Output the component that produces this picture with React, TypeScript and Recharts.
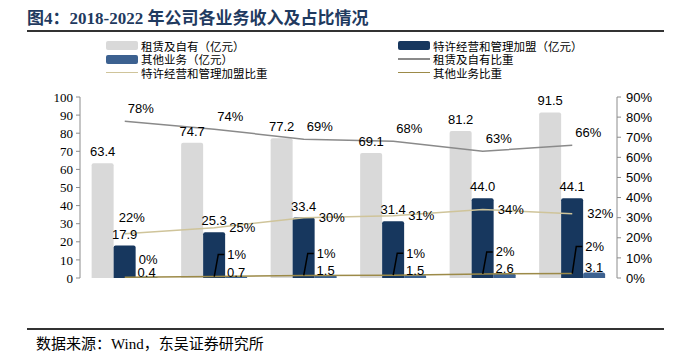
import React from 'react';
import { ComposedChart, Bar, Line, XAxis, YAxis, LabelList } from 'recharts';

if (typeof document !== 'undefined') document.body.style.margin = '0';

const years = ['2017', '2018', '2019', '2020', '2021', '2022'];
const leaseOwned = [63.4, 74.7, 77.2, 69.1, 81.2, 91.5];
const franchise = [17.9, 25.3, 33.4, 31.4, 44.0, 44.1];
const otherBiz = [0.4, 0.7, 1.5, 1.5, 2.6, 3.1];
const leaseShare = [0.78, 0.74, 0.69, 0.68, 0.63, 0.66];
const franchiseShare = [0.22, 0.25, 0.3, 0.31, 0.34, 0.32];
const otherShare = [0.004, 0.007, 0.013, 0.014, 0.02, 0.022];
const leftTicks = [0, 10, 20, 30, 40, 50, 60, 70, 80, 90, 100];
const rightTicks = [0, 0.1, 0.2, 0.3, 0.4, 0.5, 0.6, 0.7, 0.8, 0.9];

const data = years.map((year, i) => ({
  year,
  leaseOwned: leaseOwned[i],
  franchise: franchise[i],
  otherBiz: otherBiz[i],
  leaseShare: leaseShare[i],
  franchiseShare: franchiseShare[i],
  otherShare: otherShare[i],
}));

const C = {
  lease: '#d9d9d9',
  franchise: '#17375e',
  other: '#3c6190',
  leaseLine: '#8a8a8a',
  franchiseLine: '#cfc49a',
  otherLine: '#9c8a48',
  axis: '#8c8c8c',
};

const SANS = '"Liberation Sans", Arial, sans-serif';
const SERIF = '"Liberation Serif", "Times New Roman", serif';
const CJK = '"Liberation Serif", "Noto Sans CJK SC", serif';

const pct = (v: number) => `${Math.round(v * 100)}%`;

const YearTick = (props: any) => {
  const { x, y, payload, index } = props;
  const half = payload?.offset || 44.75;
  return (
    <g>
      {index < years.length - 1 && (
        <line x1={x + half} x2={x + half} y1={y - 4} y2={y} stroke={C.axis} />
      )}
      <text x={x} y={y + 16} textAnchor="middle" dominantBaseline="central" fontFamily={SERIF} fontSize={13} fill="#000">
        {payload.value}
      </text>
    </g>
  );
};

const LeaseShareLabel = (props: any) => {
  const { x, y, value } = props;
  return (
    <text x={x + 16} y={y - 13} textAnchor="middle" dominantBaseline="central" fontFamily={SANS} fontSize={13} fill="#000">
      {pct(value)}
    </text>
  );
};

const FranchiseShareLabel = (props: any) => {
  const { x, y, value, index } = props;
  if (index === 0) {
    return (
      <text x={x + 7} y={y - 16} textAnchor="middle" dominantBaseline="central" fontFamily={SANS} fontSize={13} fill="#000">
        {pct(value)}
      </text>
    );
  }
  return (
    <text x={x + 15} y={y} textAnchor="start" dominantBaseline="central" fontFamily={SANS} fontSize={13} fill="#000">
      {pct(value)}
    </text>
  );
};

const OtherShareLabel = (props: any) => {
  const { x, y, value, index } = props;
  if (index === 0) {
    return (
      <text x={x + 14} y={y - 18} textAnchor="start" dominantBaseline="central" fontFamily={SANS} fontSize={13} fill="#000">
        {pct(value)}
      </text>
    );
  }
  const up = index === years.length - 1 ? 27 : 22;
  return (
    <g>
      <polyline
        points={`${x},${y} ${x + 4},${y - up} ${x + 10},${y - up}`}
        fill="none"
        stroke="#000"
        strokeWidth={1.5}
      />
      <text x={x + 13} y={y - up} textAnchor="start" dominantBaseline="central" fontFamily={SANS} fontSize={13} fill="#000">
        {pct(value)}
      </text>
    </g>
  );
};

const barLabelStyle = { fontFamily: SANS, fontSize: 13, fill: '#000' };
const oneDecimal = (v: any) => Number(v).toFixed(1);

type LegendItem = { label: string; color: string; kind: 'bar' | 'line'; x: number; y: number };
const legendItems: LegendItem[] = [
  { label: '租赁及自有（亿元）', color: C.lease, kind: 'bar', x: 106, y: 45.5 },
  { label: '特许经营和管理加盟（亿元）', color: C.franchise, kind: 'bar', x: 398, y: 45.5 },
  { label: '其他业务（亿元）', color: C.other, kind: 'bar', x: 106, y: 59 },
  { label: '租赁及自有比重', color: C.leaseLine, kind: 'line', x: 398, y: 59 },
  { label: '特许经营和管理加盟比重', color: C.franchiseLine, kind: 'line', x: 106, y: 72.5 },
  { label: '其他业务比重', color: C.otherLine, kind: 'line', x: 398, y: 72.5 },
];

export default function App() {
  return (
    <div style={{ position: 'relative', width: 675, height: 363, background: '#fff', overflow: 'hidden' }}>
      <div
        style={{
          position: 'absolute',
          left: 27,
          top: 4,
          fontFamily: CJK,
          fontWeight: 700,
          fontSize: 17,
          color: '#1f3a5f',
          whiteSpace: 'nowrap',
        }}
      >
        图4：2018-2022 年公司各业务收入及占比情况
      </div>
      <div style={{ position: 'absolute', left: 27, top: 30, width: 637, height: 2, background: '#333' }} />

      {legendItems.map((it) => (
        <div key={it.label}>
          {it.kind === 'bar' ? (
            <div
              style={{
                position: 'absolute',
                left: it.x,
                top: it.y - 4.5,
                width: 32,
                height: 9,
                background: it.color,
                borderRadius: 2,
              }}
            />
          ) : (
            <div
              style={{ position: 'absolute', left: it.x, top: it.y - 1, width: 32, height: 1.5, background: it.color }}
            />
          )}
          <div
            style={{
              position: 'absolute',
              left: it.x + 35,
              top: it.y - 6,
              height: 12,
              lineHeight: '12px',
              fontFamily: '"Noto Sans CJK SC", sans-serif',
              fontSize: 11.5,
              color: '#000',
              whiteSpace: 'nowrap',
            }}
          >
            {it.label}
          </div>
        </div>
      ))}

      <div style={{ position: 'absolute', left: 0, top: 0 }}>
        <ComposedChart
          width={675}
          height={363}
          data={data}
          margin={{ top: 97, right: 8, bottom: 85, left: 20 }}
          barCategoryGap="13%"
          barGap={0}
        >
          <XAxis
            dataKey="year"
            xAxisId="x"
            height={0}
            axisLine={{ stroke: C.axis }}
            tickLine={false}
            tickSize={0}
            tickMargin={0}
            tick={<YearTick />}
            interval={0}
          />
          <YAxis
            yAxisId="left"
            orientation="left"
            width={60}
            domain={[0, 100]}
            ticks={leftTicks}
            interval={0}
            axisLine={{ stroke: C.axis }}
            tickLine={{ stroke: C.axis }}
            tickSize={4}
            tickMargin={3}
            tick={{ fontFamily: SERIF, fontSize: 13, fill: '#000' }}
          />
          <YAxis
            yAxisId="right"
            orientation="right"
            width={50}
            domain={[0, 0.9]}
            ticks={rightTicks}
            interval={0}
            tickFormatter={pct}
            axisLine={{ stroke: C.axis }}
            tickLine={{ stroke: C.axis }}
            tickSize={4}
            tickMargin={5}
            tick={{ fontFamily: SANS, fontSize: 13, fill: '#000' }}
          />
          <Bar xAxisId="x" yAxisId="left" dataKey="leaseOwned" fill={C.lease} radius={[2, 2, 0, 0]} isAnimationActive={false}>
            <LabelList dataKey="leaseOwned" position="top" offset={7} formatter={oneDecimal} style={barLabelStyle} />
          </Bar>
          <Bar xAxisId="x" yAxisId="left" dataKey="franchise" fill={C.franchise} radius={[2, 2, 0, 0]} isAnimationActive={false}>
            <LabelList dataKey="franchise" position="top" offset={7} formatter={oneDecimal} style={barLabelStyle} />
          </Bar>
          <Bar xAxisId="x" yAxisId="left" dataKey="otherBiz" fill={C.other} radius={[2, 2, 0, 0]} isAnimationActive={false}>
            <LabelList dataKey="otherBiz" position="top" offset={0} formatter={oneDecimal} style={barLabelStyle} />
          </Bar>
          <Line
            xAxisId="x"
            yAxisId="right"
            type="linear"
            dataKey="leaseShare"
            stroke={C.leaseLine}
            strokeWidth={1.5}
            dot={false}
            isAnimationActive={false}
          >
            <LabelList dataKey="leaseShare" content={<LeaseShareLabel />} />
          </Line>
          <Line
            xAxisId="x"
            yAxisId="right"
            type="linear"
            dataKey="franchiseShare"
            stroke={C.franchiseLine}
            strokeWidth={1.5}
            dot={false}
            isAnimationActive={false}
          >
            <LabelList dataKey="franchiseShare" content={<FranchiseShareLabel />} />
          </Line>
          <Line
            xAxisId="x"
            yAxisId="right"
            type="linear"
            dataKey="otherShare"
            stroke={C.otherLine}
            strokeWidth={1.5}
            dot={false}
            isAnimationActive={false}
          >
            <LabelList dataKey="otherShare" content={<OtherShareLabel />} />
          </Line>
        </ComposedChart>
      </div>

      <div style={{ position: 'absolute', left: 27, top: 328, width: 637, height: 2, background: '#333' }} />
      <div
        style={{
          position: 'absolute',
          left: 36,
          top: 332,
          fontFamily: CJK,
          fontSize: 15,
          color: '#000',
          whiteSpace: 'nowrap',
        }}
      >
        数据来源：Wind，东吴证券研究所
      </div>
    </div>
  );
}
